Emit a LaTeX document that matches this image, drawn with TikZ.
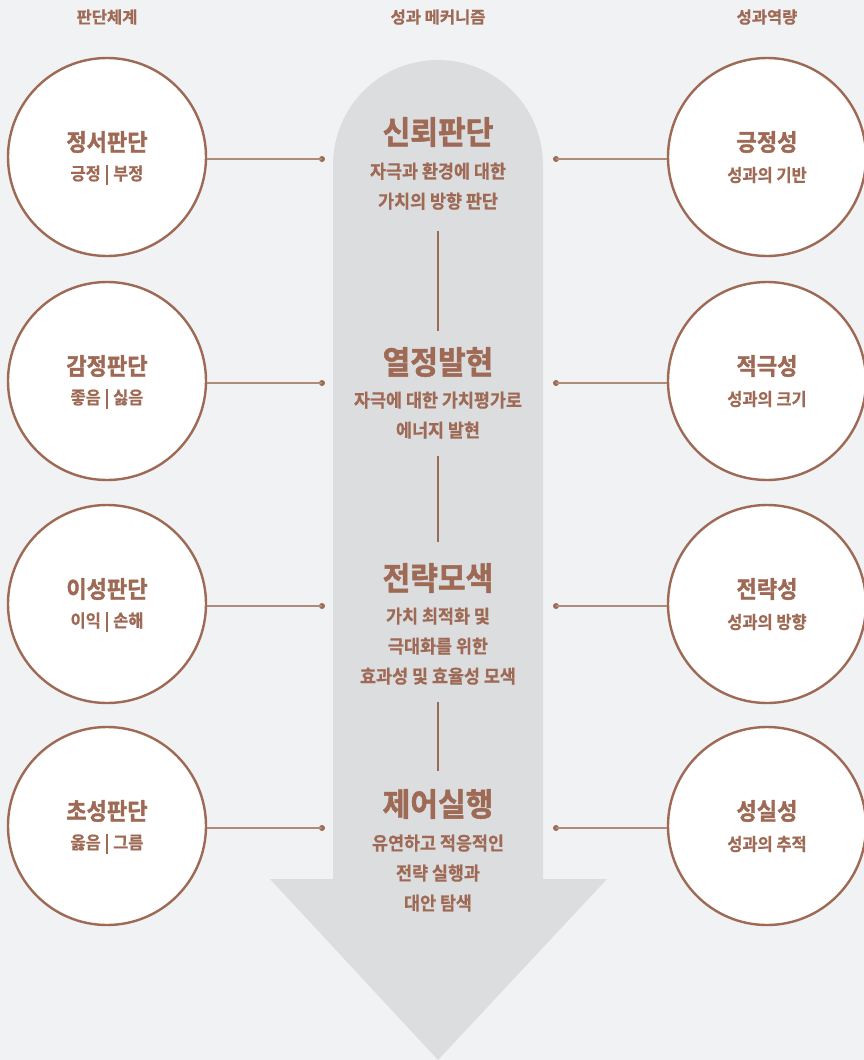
\documentclass[tikz,border=0pt]{standalone}
\usepackage{fontspec}
\setmainfont{Noto Sans CJK KR}[BoldFont={Noto Sans CJK KR Bold}]
\newfontfamily\hdrfont{Noto Sans CJK KR Bold}[FakeBold=1.0]
\newfontfamily\heavyfont{Noto Sans CJK KR Bold}[FakeStretch=0.94, FakeBold=1.6]
\newfontfamily\midfont{Noto Sans CJK KR Bold}[FakeStretch=0.94, FakeBold=0.6]
\definecolor{bg}{HTML}{F1F2F4}
\definecolor{arrowfill}{HTML}{DCDDDF}
\definecolor{brown}{HTML}{9E6A55}
\definecolor{linebrown}{HTML}{B08A7B}
\tikzset{
  circ/.style={circle, draw=brown, line width=2.4pt, fill=white, minimum size=198pt, inner sep=0pt},
  ctitle/.style={text=brown, font=\heavyfont\fontsize{23.5}{26}\selectfont},
  csub/.style={text=brown, font=\midfont\fontsize{17.5}{20}\selectfont},
  mtitle/.style={text=brown, font=\heavyfont\fontsize{32}{36}\selectfont},
  msub/.style={text=brown, font=\midfont\fontsize{18.5}{30}\selectfont, align=center},
  hdr/.style={text=brown, font=\hdrfont\fontsize{16.5}{20}\selectfont},
  conn/.style={draw=linebrown, line width=1.5pt},
  vline/.style={draw=brown, line width=1.2pt},
  dotnode/.style={circle, fill=brown, inner sep=0pt, minimum size=6pt}
}
\begin{document}
\begin{tikzpicture}[x=1pt,y=-1pt]
\fill[bg] (0,0) rectangle (864,1060);
\useasboundingbox (0,0) rectangle (864,1060);
% arrow
\fill[arrowfill] (333,879) -- (333,165) arc[start angle=180, end angle=360, radius=105] -- (543,879) -- (607,879) -- (438,1060) -- (270,879) -- cycle;
% headers
\node[hdr] (h1) at (107,17) {판단체계};
\node[hdr] (h2) at (438,17) {성과 메커니즘};
\node[hdr] (h3) at (767,17) {성과역량};
% rows
\foreach \i/\y/\lt/\ls/\rt/\rs in {1/157/정서판단/긍정 | 부정/긍정성/성과의 기반, 2/381/감정판단/좋음 | 싫음/적극성/성과의 크기, 3/604/이성판단/이익 | 손해/전략성/성과의 방향, 4/826/초성판단/옳음 | 그름/성실성/성과의 추적}{
  \node[circ] (L\i) at (107,\y) {};
  \node[circ] (R\i) at (767,\y) {};
  \node[ctitle] (LT\i) at (107,\y-15) {\lt};
  \node[csub] (LS\i) at (107,\y+18) {\ls};
  \node[ctitle] (RT\i) at (767,\y-15) {\rt};
  \node[csub] (RS\i) at (767,\y+18) {\rs};
  \node[dotnode] (DL\i) at (322,\y+2) {};
  \node[dotnode] (DR\i) at (556,\y+2) {};
  \draw[conn] (L\i.east |- DL\i) -- (DL\i.center);
  \draw[conn] (DR\i.center) -- (R\i.west |- DR\i);
}
% middle texts
\node[mtitle] (M1) at (438,132) {신뢰판단};
\node[msub, anchor=north] (S1) at (438,159) {자극과 환경에 대한\\가치의 방향 판단};
\node[mtitle] (M2) at (438,362) {열정발현};
\node[msub, anchor=north] (S2) at (438,388) {자극에 대한 가치평가로\\에너지 발현};
\node[mtitle] (M3) at (438,578) {전략모색};
\node[msub, anchor=north] (S3) at (438,604) {가치 최적화 및\\극대화를 위한\\효과성 및 효율성 모색};
\node[mtitle] (M4) at (438,804) {제어실행};
\node[msub, anchor=north] (S4) at (438,831) {유연하고 적응적인\\전략 실행과\\대안 탐색};
\coordinate (a1) at (438,231); \coordinate (b1) at (438,331);
\coordinate (a2) at (438,456); \coordinate (b2) at (438,542);
\coordinate (a3) at (438,702); \coordinate (b3) at (438,771);
\draw[vline] (a1) -- (b1);
\draw[vline] (a2) -- (b2);
\draw[vline] (a3) -- (b3);
\end{tikzpicture}
\end{document}
